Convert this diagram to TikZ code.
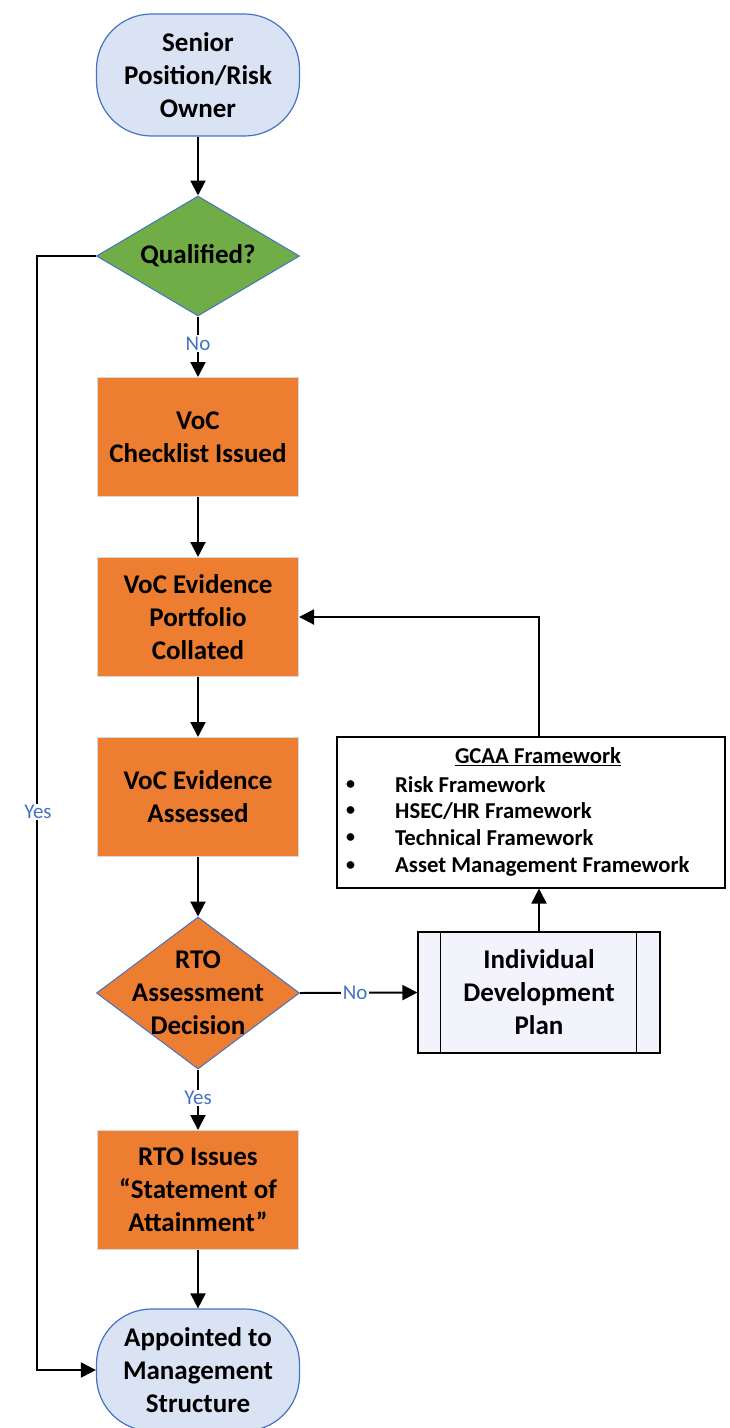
\documentclass[tikz,border=0pt]{standalone}
\usepackage{fontspec}
\setmainfont{Carlito}
\usetikzlibrary{shapes.geometric,arrows.meta,calc}
\definecolor{termfill}{HTML}{DAE3F3}
\definecolor{termdraw}{HTML}{4472C4}
\definecolor{greenfill}{HTML}{70AD47}
\definecolor{orangefill}{HTML}{ED7D31}
\definecolor{boxedge}{HTML}{D9D9D9}
\definecolor{lblblue}{HTML}{4472C4}
\definecolor{idpfill}{HTML}{F3F4FB}
\tikzset{
  mainfont/.style={font=\bfseries\fontsize{27}{33}\selectfont},
  terminal/.style={mainfont, draw=termdraw, line width=1.2pt, fill=termfill, rounded corners=55pt, minimum width=203pt, minimum height=122pt, align=center, inner sep=0pt},
  decision/.style={diamond, draw=termdraw, line width=1pt, minimum width=203pt, minimum height=#1, inner sep=0pt},
  process/.style={mainfont, draw=boxedge, line width=1pt, fill=orangefill, minimum width=201pt, minimum height=119pt, align=center, inner sep=0pt},
  conn/.style={line width=2pt, draw=black, -{Triangle[width=15pt,length=15pt]}},
  lbl/.style={font=\fontsize{21}{25}\selectfont, text=lblblue, fill=white, inner sep=1.5pt},
  gfont/.style={font=\bfseries\fontsize{22.7}{26}\selectfont, inner sep=0pt},
  bfont/.style={font=\bfseries\fontsize{18}{26}\selectfont, inner sep=0pt},
}
\begin{document}
\begin{tikzpicture}[x=1pt,y=-1pt]
\useasboundingbox (0,0) rectangle (729,1428);
% nodes
\node[terminal] (senior) at (198,75) {Senior\\Position/Risk\\Owner};
\node[decision=120pt, fill=greenfill] (qual) at (198,256) {};
\node[mainfont] (qualtxt) at (qual) {Qualified?};
\node[process] (voc1) at (198,437) {VoC\\Checklist Issued};
\node[process] (voc2) at (198,617) {VoC Evidence\\Portfolio\\Collated};
\node[process] (voc3) at (198,797) {VoC Evidence\\Assessed};
\node[decision=152pt, fill=orangefill] (rto) at (198,993) {};
\node[mainfont, align=center] (rtotxt) at (rto) {RTO\\Assessment\\Decision};
\node[process] (rtoi) at (198,1190) {RTO Issues\\“Statement of\\Attainment”};
\node[terminal] (appt) at (198,1370) {Appointed to\\Management\\Structure};
% GCAA box
\node[draw=black, line width=1.2pt, fill=white, minimum width=388pt, minimum height=151pt, inner sep=0pt] (gcaa) at (531,812.5) {};
\node[gfont] (gtitle) at (538,757) {\underline{GCAA Framework}};
\node[bfont, anchor=west] (b1) at (346,785) {\textbullet};
\node[gfont, anchor=west] (t1) at (395,785) {Risk Framework};
\node[bfont, anchor=west] (b2) at (346,811) {\textbullet};
\node[gfont, anchor=west] (t2) at (395,811) {HSEC/HR Framework};
\node[bfont, anchor=west] (b3) at (346,838) {\textbullet};
\node[gfont, anchor=west] (t3) at (395,838) {Technical Framework};
\node[bfont, anchor=west] (b4) at (346,866) {\textbullet};
\node[gfont, anchor=west] (t4) at (395,866) {Asset Management Framework};
% IDP box
\node[draw=black, line width=1.2pt, fill=idpfill, minimum width=242pt, minimum height=121pt, inner sep=0pt, font=\fontsize{27}{33}\selectfont\bfseries, align=center] (idp) at (539,992.5) {Individual\\Development\\Plan};
\draw[line width=1.2pt] ($(idp.north west)+(23,0)$) -- ($(idp.south west)+(23,0)$);
\draw[line width=1.2pt] ($(idp.north east)+(-24,0)$) -- ($(idp.south east)+(-24,0)$);
% connectors
\draw[conn] (senior.south) -- (qual.north);
\draw[conn] (qual.south) -- node[lbl, pos=0.45] (no1) {No} (voc1.north);
\draw[conn] (voc1.south) -- (voc2.north);
\draw[conn] (voc2.south) -- (voc3.north);
\draw[conn] (voc3.south) -- (rto.north);
\draw[conn] (rto.south) -- node[lbl, pos=0.47] (yes2) {Yes} (rtoi.north);
\draw[conn] (rtoi.south) -- (appt.north);
\coordinate (lefttop) at ($(qual.west)+(-59,0)$);
\draw[conn] (qual.west) -- (lefttop) |- (appt.west);
\node[lbl] (yes1) at (38,812) {Yes};
\draw[conn] (rto.east) -- node[lbl, pos=0.47] (no2) {No} (idp.west);
\draw[conn] (idp.north) -- (idp.north |- gcaa.south);
\draw[conn] (idp.north |- gcaa.north) |- (voc2.east);
\end{tikzpicture}
\end{document}
